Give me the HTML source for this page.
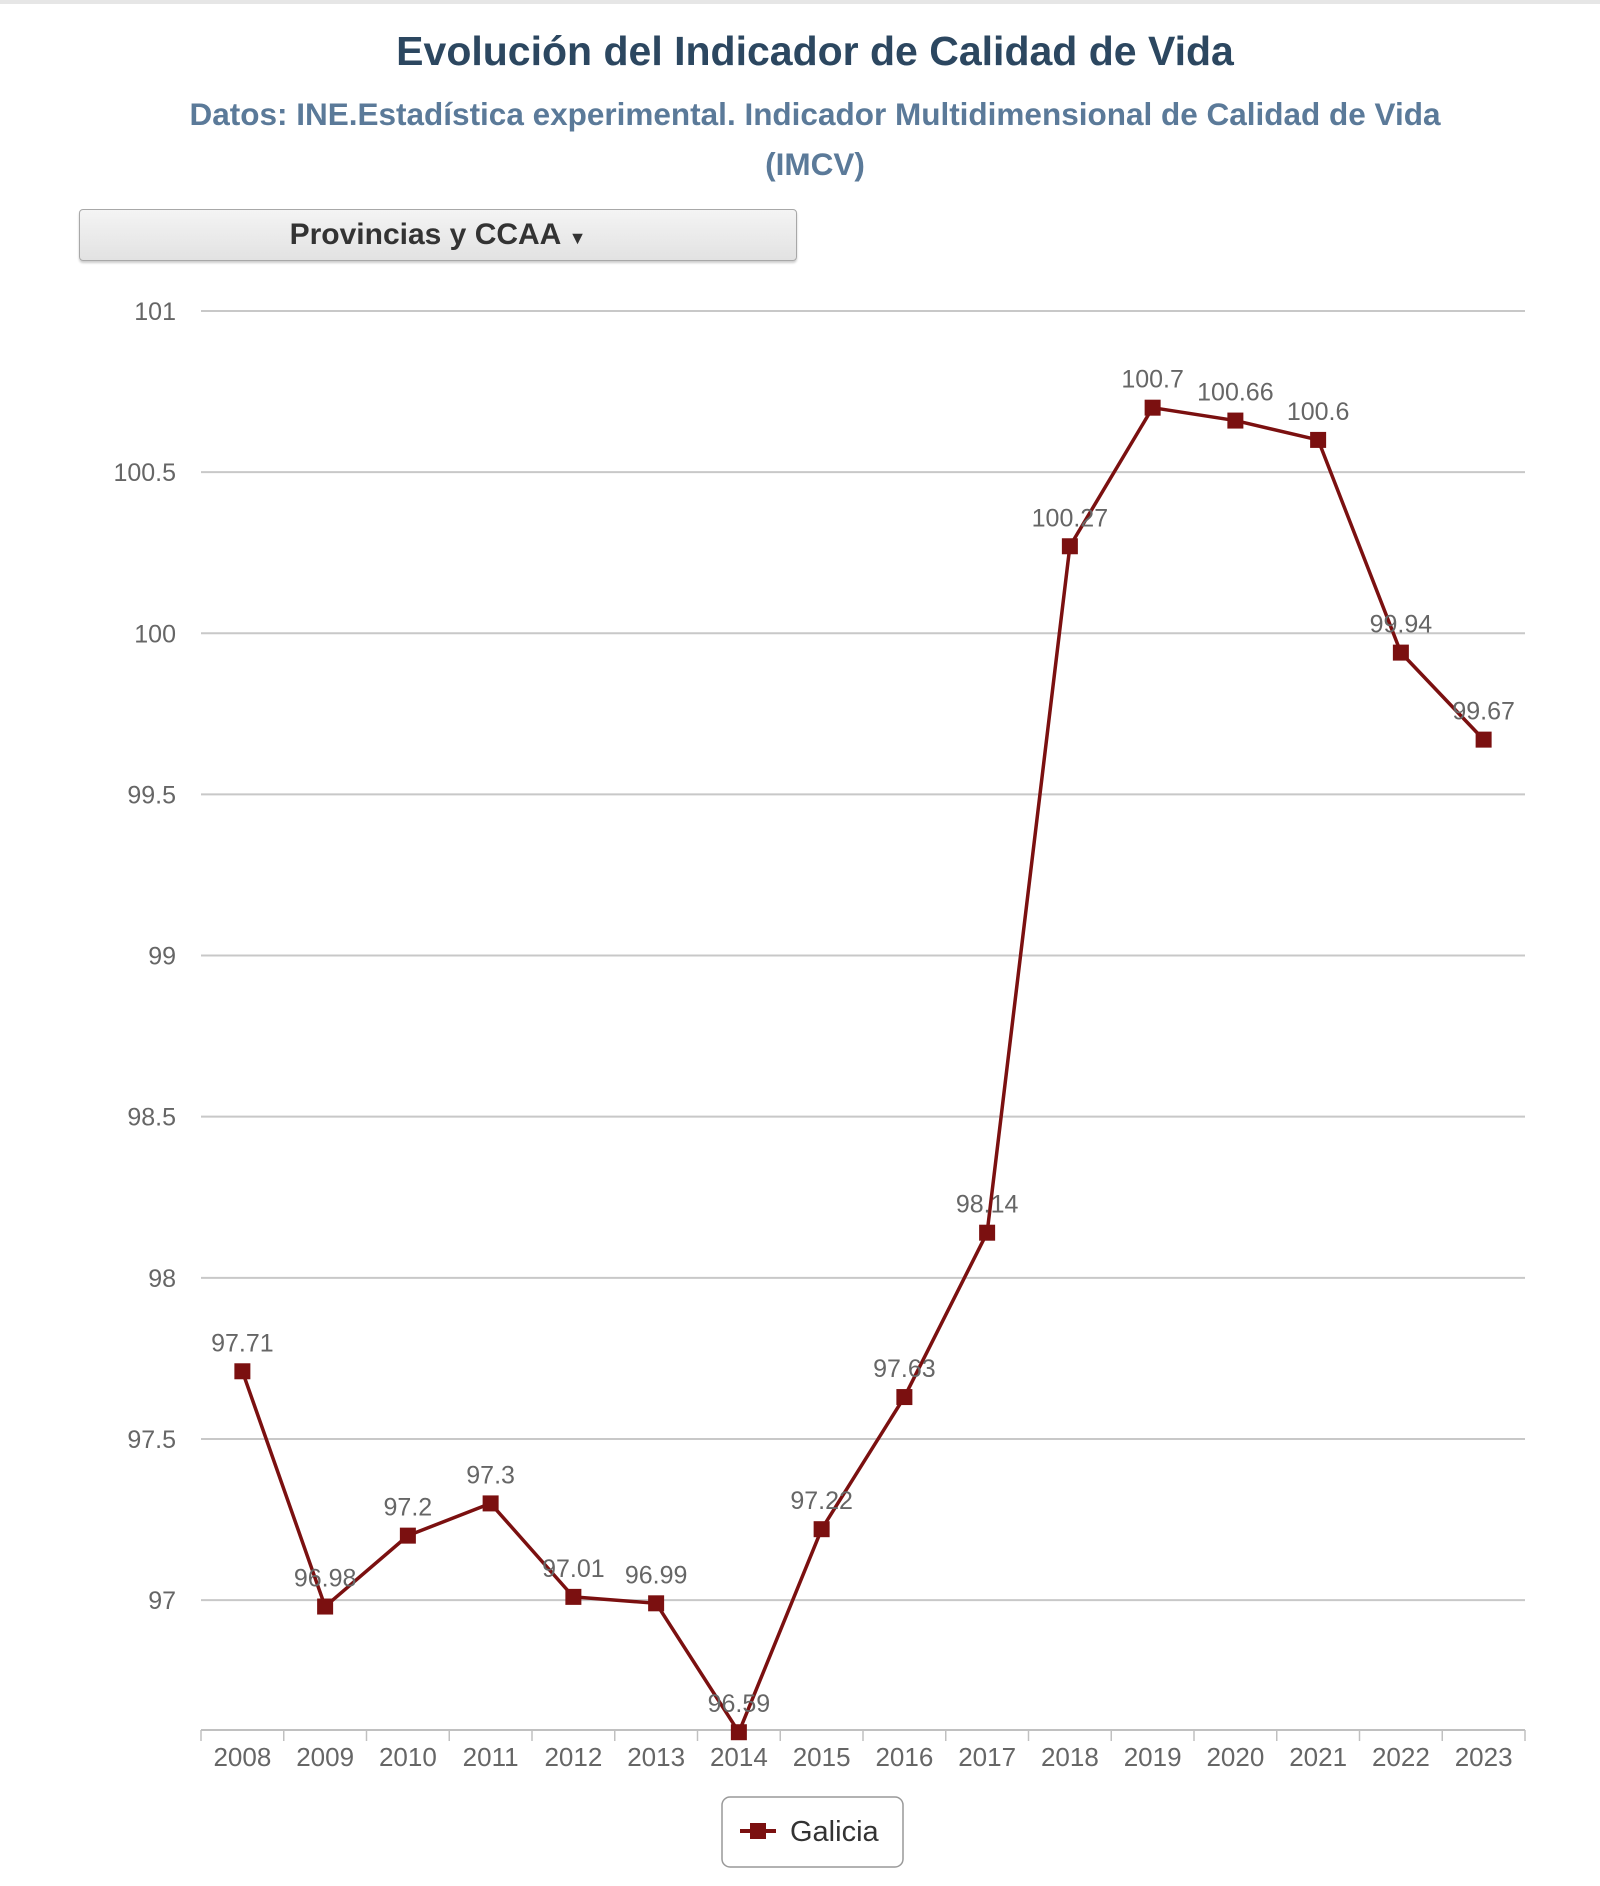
<!DOCTYPE html>
<html><head><meta charset="utf-8">
<style>
html,body{margin:0;padding:0;background:#fff;width:1600px;height:1886px;overflow:hidden;font-family:"Liberation Sans",sans-serif}
#top{position:absolute;left:0;top:0;width:1600px;height:4px;background:#e6e6e6}
#title{position:absolute;left:0;width:1630px;top:28px;text-align:center;font-weight:bold;font-size:41px;color:#2c4760}
#sub{position:absolute;left:0;width:1630px;top:89px;text-align:center;font-weight:bold;font-size:31.5px;line-height:50px;color:#5b7a99}
#btn{position:absolute;left:79px;top:209px;width:718px;height:52px;box-sizing:border-box;border:1px solid #a8a8a8;border-radius:4px;background:linear-gradient(#f4f4f4,#e2e2e2);box-shadow:0 2px 2px rgba(0,0,0,.2);text-align:center;font-weight:bold;font-size:30px;line-height:50px;color:#333}
svg{position:absolute;left:0;top:0}
</style></head><body>
<div id="top"></div>
<div id="title">Evolución del Indicador de Calidad de Vida</div>
<div id="sub">Datos: INE.Estadística experimental. Indicador Multidimensional de Calidad de Vida<br>(IMCV)</div>
<div id="btn">Provincias y CCAA <span style="font-size:18px">▼</span></div>
<svg id="chart" width="1600" height="1886"></svg>
<script>
const categories=["2008","2009","2010","2011","2012","2013","2014","2015","2016","2017","2018","2019","2020","2021","2022","2023"];
const galicia=[97.71,96.98,97.2,97.3,97.01,96.99,96.59,97.22,97.63,98.14,100.27,100.7,100.66,100.6,99.94,99.67];
const yTicks=[97,97.5,98,98.5,99,99.5,100,100.5,101];
const yTickLabels=["97","97.5","98","98.5","99","99.5","100","100.5","101"];
const seriesName="Galicia";

const NS="http://www.w3.org/2000/svg";
const svg=document.getElementById('chart');
const L=201,R=1525,yMin=96.6,yMax=101,top0=311,bot=1729;
const bw=(R-L)/categories.length;
function x(i){return L+bw*(i+0.5);}
function y(v){return bot-(v-yMin)/(yMax-yMin)*(bot-top0);}
function el(t,a,p){const e=document.createElementNS(NS,t);for(const k in a)e.setAttribute(k,a[k]);(p||svg).appendChild(e);return e;}

yTicks.forEach((t,i)=>{
  const g=el('line',{x1:L,x2:R,y1:y(t),y2:y(t),stroke:'#c8c8c8','stroke-width':2});
  
  
  const tx=el('text',{x:176,y:y(t)+9,'text-anchor':'end','font-size':25,fill:'#666'});
  tx.textContent=yTickLabels[i];
  
  
});
const ax=el('line',{x1:L,x2:R,y1:bot+1,y2:bot+1,stroke:'#c0c0c0','stroke-width':2});


for(let i=0;i<=categories.length;i++){
  const tk=el('line',{x1:L+bw*i,x2:L+bw*i,y1:bot+1,y2:bot+12,stroke:'#c0c0c0','stroke-width':1.5});
  
  
}
categories.forEach((c,i)=>{
  const t=el('text',{x:x(i),y:1766,'text-anchor':'middle','font-size':26,fill:'#666'});
  t.textContent=c;
  
  
});
const pts=galicia.map((v,i)=>x(i)+','+y(v)).join(' ');
const line=el('polyline',{points:pts,fill:'none',stroke:'#7b1010','stroke-width':3.5,'stroke-linejoin':'round'});


galicia.forEach((v,i)=>{
  const m=el('rect',{x:x(i)-8,y:y(v)-8,width:16,height:16,fill:'#7b1010'});
  
  
  const t=el('text',{x:x(i),y:y(v)-20,'text-anchor':'middle','font-size':25,fill:'#666'});
  t.textContent=String(v);
  
  
});
const lg=el('g',{});


el('rect',{x:722,y:1797,width:181,height:70,rx:8,fill:'#fff',stroke:'#999','stroke-width':1.5},lg);
el('line',{x1:740,x2:776,y1:1831,y2:1831,stroke:'#7b1010','stroke-width':4},lg);
el('rect',{x:750,y:1823,width:16,height:16,fill:'#7b1010'},lg);
const lt=el('text',{x:790,y:1841,'font-size':29,fill:'#333'},lg);
lt.textContent=seriesName;
</script>
</body></html>
